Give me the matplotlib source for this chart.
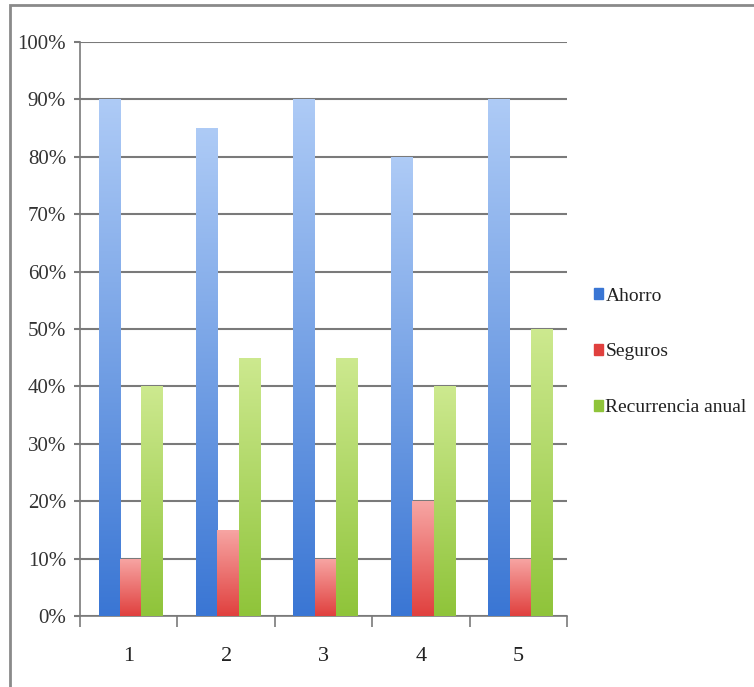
import numpy as np
import matplotlib
matplotlib.use("Agg")
import matplotlib.pyplot as plt
from matplotlib.colors import LinearSegmentedColormap
from matplotlib.patches import Rectangle

# data
groups = ["1", "2", "3", "4", "5"]
ahorro = [90, 85, 90, 80, 90]
seguros = [10, 15, 10, 20, 10]
recurrencia = [40, 45, 45, 40, 50]
series_names = ["Ahorro", "Seguros", "Recurrencia anual"]
y_ticks = [0, 10, 20, 30, 40, 50, 60, 70, 80, 90, 100]

# (top colour, bottom colour) for each series gradient
shades = [("#aecbf6", "#3a76d4"), ("#f7a6a4", "#e0403e"), ("#cde98f", "#8fc43a")]

plt.rcParams['font.family'] = ['Liberation Serif', 'DejaVu Serif']

fig = plt.figure(figsize=(7.54, 6.87), dpi=100)
fig.patches.append(Rectangle((10 / 754, -0.01), 1.0, 1 - 5 / 687 + 0.01,
                             transform=fig.transFigure, fill=False,
                             edgecolor="#8a8a8a", linewidth=2.0))
ax = fig.add_axes([80 / 754, 71 / 687, 487 / 754, 574 / 687])

x = np.arange(len(groups))
w = 0.22
offsets = [-w, 0, w]
grad = np.linspace(0, 1, 256).reshape(-1, 1)

for vals, off, (top, bot), name in zip([ahorro, seguros, recurrencia], offsets, shades, series_names):
    bars = ax.bar(x + off + 0.02, vals, w, color=bot, label=name, zorder=2)
    cmap = LinearSegmentedColormap.from_list(name, [bot, top])
    for b in bars:
        x0, h = b.get_x(), b.get_height()
        im = ax.imshow(grad, cmap=cmap, origin="lower", aspect="auto",
                       extent=[x0, x0 + b.get_width(), 0, h], zorder=3)
        b.set_facecolor("none")
        b.set_edgecolor("none")
        im.set_clip_path(b)

ax.set_xlim(-0.5, len(groups) - 0.5)
ax.set_ylim(0, 100)
ax.set_yticks(y_ticks)
ax.set_yticklabels([f"{v}%" for v in y_ticks])
ax.yaxis.grid(True, color="#7a7a7a", linewidth=1.5, zorder=1)
ax.set_axisbelow(True)

# category labels centred, tick marks on boundaries
ax.set_xticks(x)
ax.set_xticklabels(groups)
ax.tick_params(axis="x", length=0, pad=22, labelsize=16, colors="#222222")
ax.set_xticks(np.arange(-0.5, len(groups)), minor=True)
ax.tick_params(axis="x", which="minor", length=8, width=1.2, color="#7a7a7a")
ax.tick_params(axis="y", length=4, width=1.5, color="#7a7a7a", labelsize=15,
               labelcolor="#333333", pad=6)

for s in ["top", "right"]:
    ax.spines[s].set_visible(False)
for s in ["left", "bottom"]:
    ax.spines[s].set_color("#7a7a7a")
    ax.spines[s].set_linewidth(1.2)

handles = [Rectangle((0, 0), 1, 1, color=c[1]) for c in shades]
leg = fig.legend(handles, series_names, loc="center left",
                 bbox_to_anchor=(586 / 754, 1 - 352 / 687), frameon=False,
                 fontsize=14, handlelength=0.45, handleheight=0.45,
                 handletextpad=0.15, labelspacing=2.0, borderaxespad=0)
for t in leg.get_texts():
    t.set_color("#222222")

fig.savefig("out.png", dpi=100)
